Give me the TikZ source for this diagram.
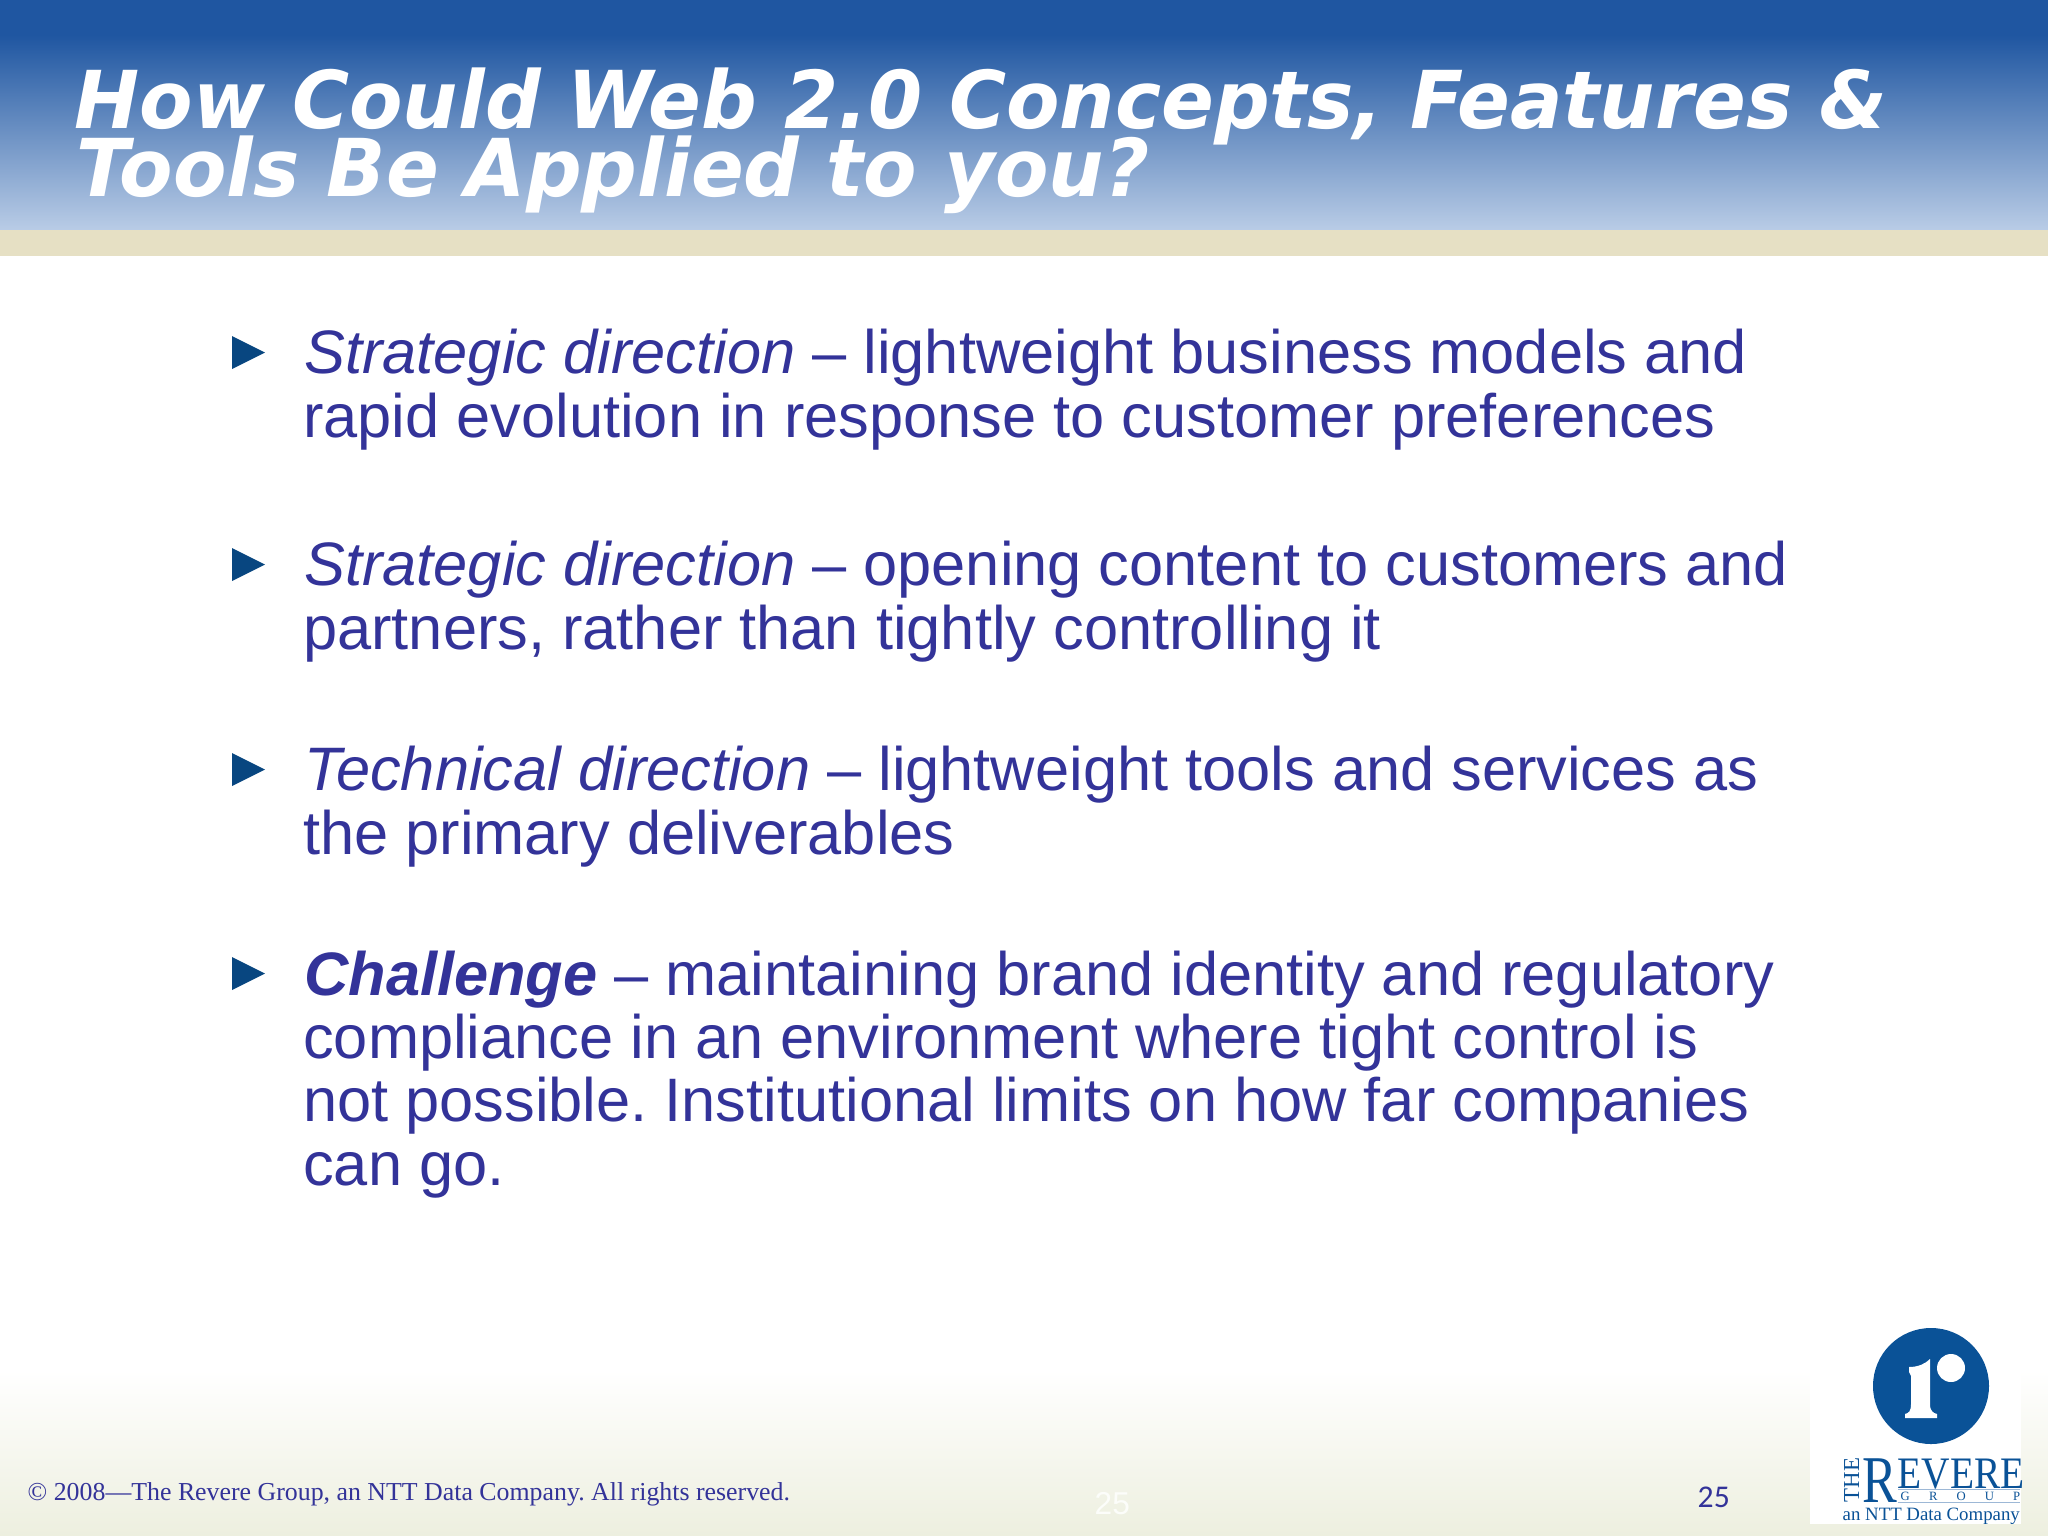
\documentclass[tikz,border=0pt]{standalone}
\usepackage{fontspec}
\setmainfont{Liberation Sans}
\newfontfamily\titlefont[FakeStretch=0.975]{DejaVu Sans}
\newfontfamily\seriffont{Liberation Serif}
\newfontfamily\logofont[FakeStretch=0.875]{Liberation Serif}
\newfontfamily\logoRfont[FakeStretch=0.78]{Liberation Serif}
\newfontfamily\pagefont{Carlito}
\definecolor{headblue}{HTML}{1F56A1}
\definecolor{headmid}{HTML}{6E94C2}
\definecolor{headpale}{HTML}{B9CCE6}
\definecolor{bandtan}{HTML}{E6E0C4}
\definecolor{footpale}{HTML}{EDEFDF}
\definecolor{bodyblue}{HTML}{333399}
\definecolor{logoblue}{HTML}{0A5297}
\definecolor{logorule}{HTML}{9DB8D6}
\tikzset{
  titleline/.style={anchor=base west,text=white,font=\titlefont\bfseries\itshape\fontsize{22.7}{22.7}\selectfont},
  bodyline/.style={anchor=base west,text=bodyblue,align=left,font=\fontsize{17.45}{17.92}\selectfont},
  bulletmark/.style={fill=logoblue!85!black},
  logotext/.style={anchor=base west,text=logoblue}
}
\frenchspacing
\begin{document}
\begin{tikzpicture}[x=0.01cm,y=0.01cm]
\tikzstyle{every node}+=[inner sep=0pt]
\useasboundingbox (0,0) rectangle (2048,-1536);
\fill [white] (0,0) rectangle (2048,-1536);
\fill [headblue] (0,0) rectangle (2048,-35);
\shade [top color=headblue,middle color=headmid,bottom color=headpale] (0,-35) rectangle (2048,-230);
\fill [bandtan] (0,-230) rectangle (2048,-256);
\shade [top color=white,bottom color=footpale] (0,-1370) rectangle (2048,-1536);
\node [titleline] (title1) at (74,-128) {How Could Web 2.0 Concepts, Features \&};
\node [titleline] (title2) at (76,-196) {Tools Be Applied to you?};
\fill [bulletmark] (232,-336) -- (265,-352.5) -- (232,-369) -- cycle;
\node [bodyline] (point1) at (302.5,-437) {\hspace{0.3pt}\textit{Strategic direction} -- lightweight business models and\\rapid evolution in response to customer preferences};
\fill [bulletmark] (232,-548) -- (265,-564.5) -- (232,-581) -- cycle;
\node [bodyline] (point2) at (302.5,-649) {\hspace{0.3pt}\textit{Strategic direction} -- opening content to customers and\\partners, rather than tightly controlling it};
\fill [bulletmark] (232,-753) -- (265,-769.5) -- (232,-786) -- cycle;
\node [bodyline] (point3) at (302.5,-854) {\hspace{0.3pt}\textit{Technical direction} -- lightweight tools and services as\\the primary deliverables};
\fill [bulletmark] (232,-957) -- (265,-973.5) -- (232,-990) -- cycle;
\node [bodyline] (point4) at (302.5,-1185) {\hspace{0.3pt}\textbf{\textit{Challenge}} -- maintaining brand identity and regulatory\\compliance in an environment where tight control is\\not possible. Institutional limits on how far companies\\can go.};
\node [anchor=base west,text=bodyblue,font=\seriffont\fontsize{7.35}{7.35}\selectfont] (copyright) at (27,-1500) {\textcopyright\ 2008—The Revere Group, an NTT Data Company. All rights reserved.};
\node [anchor=base west,text=white!85!footpale,font=\fontsize{9}{9}\selectfont] (ghostnum) at (1094,-1514) {25};
\node [anchor=base west,text=bodyblue,font=\pagefont\fontsize{9}{9}\selectfont] (pagenum) at (1697,-1507) {25};
\fill [white] (1810,-1310) rectangle (2021,-1524);
\fill [logoblue] (1931,-1386) circle (58);
\fill [white] (1951,-1368) circle (14);
\fill [white] (1930,-1359) -- (1930,-1404) .. controls (1930,-1411) and (1933,-1413) .. (1937,-1414) -- (1937,-1418) -- (1905,-1418) -- (1905,-1414) .. controls (1909,-1413) and (1911,-1411) .. (1911,-1404) -- (1911,-1376) -- (1909,-1372) -- (1909,-1367) .. controls (1918,-1367) and (1925,-1364) .. (1930,-1359) -- cycle;
\node [logotext,font=\logoRfont\fontsize{19}{19}\selectfont] (logoR) at (1862,-1502) {R};
\node [logotext,font=\logofont\fontsize{12.8}{12.8}\selectfont] (logoEvere) at (1897,-1488) {EVERE};
\node [anchor=base,rotate=90,text=logoblue,font=\seriffont\fontsize{6.5}{6.5}\selectfont] (logoThe) at (1859,-1480) {THE};
\draw [logorule,line width=0.4pt] (1898,-1489.5) -- (2020,-1489.5);
\draw [logorule,line width=0.4pt] (1898,-1502.5) -- (2020,-1502.5);
\node [logotext,font=\seriffont\fontsize{3.6}{3.6}\selectfont] (logoGroup) at (1900,-1500) {\makebox[34pt][s]{G\hfill R\hfill O\hfill U\hfill P}};
\node [logotext,font=\seriffont\fontsize{5.35}{5.35}\selectfont] (logoNtt) at (1842,-1520) {an NTT Data Company};
\end{tikzpicture}
\end{document}
